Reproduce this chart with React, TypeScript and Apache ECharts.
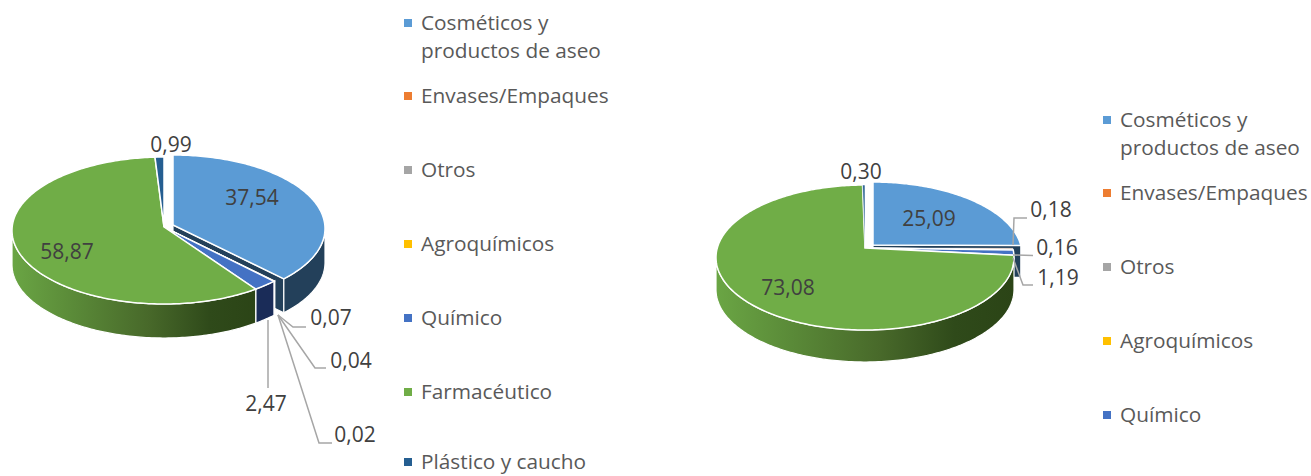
import React, { useEffect, useRef } from "react";
import * as echarts from "echarts";

const categories = [
  "Cosméticos y\nproductos de aseo",
  "Envases/Empaques",
  "Otros",
  "Agroquímicos",
  "Químico",
  "Farmacéutico",
  "Plástico y caucho",
];
const leftValues = [37.54, 0.07, 0.04, 0.02, 2.47, 58.87, 0.99];
const rightValues = [25.09, 0.18, 0.16, 0, 1.19, 73.08, 0.3];
const topColors = ["#5B9BD5", "#ED7D31", "#A5A5A5", "#FFC000", "#4472C4", "#70AD47", "#255E91"];
const wallColors = ["#23405A", "#7A3F18", "#555555", "#806000", "#1A2C58", "#2B4416", "#163A5A"];

const FONT = '"Open Sans", sans-serif';

type Layout = {
  ax: number; ay: number; rx: number; far: number; near: number; depth: number;
  blueOffset: [number, number]; gradX0: number; gradX1: number;
  labelPos: ([number, number] | null)[];
  leaders: ([number, number][] | null)[];
  legendX: number; legendYs: number[];
};

const leftLayout: Layout = {
  ax: 164, ay: 227, rx: 152, far: 70, near: 77, depth: 34,
  blueOffset: [9, -2], gradX0: 12, gradX1: 259,
  labelPos: [[252, 197], [331, 317], [351, 360], [355, 434], [266, 403], [67, 251], [171, 144]],
  leaders: [
    null,
    [[278, 315], [293, 327], [306, 327]],
    [[278, 315], [315, 368], [326, 368]],
    [[278, 315], [319, 443], [332, 443]],
    [[268, 320], [268, 388]],
    null,
    null,
  ],
  legendX: 404,
  legendYs: [22, 95, 169, 243, 317, 391, 461],
};

const rightLayout: Layout = {
  ax: 865, ay: 248, rx: 149, far: 63, near: 82, depth: 32,
  blueOffset: [8, -3], gradX0: 717, gradX1: 1014,
  labelPos: [[929, 218], [1051, 209], [1057, 247], null, [1058, 277], [788, 287], [861, 171]],
  leaders: [
    null,
    [[1013, 245], [1014, 218], [1027, 218]],
    [[1013, 255], [1033, 255.5]],
    null,
    [[1013, 258], [1023, 285], [1033, 285]],
    null,
    null,
  ],
  legendX: 1103,
  legendYs: [119, 192, 266, 340, 414],
};

function project(l: Layout, t: number, off: [number, number]): [number, number] {
  const P = (l.near - l.far) / (l.near + l.far);
  const ky = l.near * (1 - P);
  const kx = l.rx * Math.sqrt(1 - P * P);
  const u = Math.sin(t);
  const v = -Math.cos(t);
  const d = 1 - P * v;
  return [l.ax + off[0] + (kx * u) / d, l.ay + off[1] + (ky * v) / d];
}

function arc(l: Layout, t0: number, t1: number, off: [number, number]) {
  const pts: [number, number][] = [];
  const n = Math.max(2, Math.ceil(((t1 - t0) * 180) / Math.PI));
  for (let i = 0; i <= n; i++) pts.push(project(l, t0 + ((t1 - t0) * i) / n, off));
  return pts;
}

function sliceAngles(values: number[], i: number) {
  const total = values.reduce((a, b) => a + b, 0);
  const before = values.slice(0, i).reduce((a, b) => a + b, 0);
  return [(before / total) * 2 * Math.PI, ((before + values[i]) / total) * 2 * Math.PI];
}

function offsetOf(l: Layout, i: number): [number, number] {
  return i === 0 ? l.blueOffset : [0, 0];
}

function wallFill(l: Layout, i: number, ay: number) {
  if (i !== 5) return wallColors[i];
  return {
    type: "linear", x: l.gradX0, y: ay, x2: l.gradX1, y2: ay, global: true,
    colorStops: [
      { offset: 0, color: "#6AA544" },
      { offset: 0.25, color: "#5A8A38" },
      { offset: 0.55, color: "#48692A" },
      { offset: 0.8, color: "#2F4A1A" },
      { offset: 1, color: "#2B4416" },
    ],
  };
}

function wallSeries(name: string, values: number[], l: Layout) {
  return {
    type: "custom", name, coordinateSystem: "none", z: 2, silent: true,
    data: values.map((v) => [v]),
    renderItem: (params: any, api: any) => {
      const i = params.dataIndex;
      if (!(api.value(0) > 0)) return { type: "group", children: [] };
      const [t0, t1] = sliceAngles(values, i);
      const off = offsetOf(l, i);
      const P = (l.near - l.far) / (l.near + l.far);
      const lo = Math.acos(-P);
      const hi = 2 * Math.PI - lo;
      const children: any[] = [];
      if (off[0] !== 0) {
        const a: [number, number] = [l.ax + off[0], l.ay + off[1]];
        const e = project(l, t1, off);
        children.push({
          type: "polygon",
          shape: { points: [a, e, [e[0], e[1] + l.depth], [a[0], a[1] + l.depth]] },
          style: { fill: wallColors[i], stroke: "#fff", lineWidth: 1.2 },
        });
      }
      const s = Math.max(t0, lo);
      const f = Math.min(t1, hi);
      if (f > s) {
        const top = arc(l, s, f, off);
        const bottom = top.map((p) => [p[0], p[1] + l.depth]).reverse();
        children.push({
          type: "polygon",
          shape: { points: [...top, ...bottom] },
          style: { fill: wallFill(l, i, l.ay), stroke: "#fff", lineWidth: 1.2 },
        });
      }
      return { type: "group", children };
    },
  };
}

function topSeries(name: string, values: number[], l: Layout) {
  return {
    type: "custom", name, coordinateSystem: "none", z: 3, silent: true,
    data: values.map((v) => [v]),
    renderItem: (params: any, api: any) => {
      const i = params.dataIndex;
      if (!(api.value(0) > 0)) return { type: "group", children: [] };
      const [t0, t1] = sliceAngles(values, i);
      const off = offsetOf(l, i);
      const pts = [[l.ax + off[0], l.ay + off[1]], ...arc(l, t0, t1, off)];
      return {
        type: "polygon",
        shape: { points: pts },
        style: { fill: topColors[i], stroke: "#fff", lineWidth: values[i] < 0.5 ? 0.6 : 1.5 },
      };
    },
  };
}

const fmt = (v: number) => v.toFixed(2).replace(".", ",");

function overlay(values: number[], l: Layout) {
  const els: any[] = [];
  values.forEach((v, i) => {
    const line = l.leaders[i];
    if (line) {
      els.push({
        type: "polyline", z: 10, silent: true, shape: { points: line },
        style: { stroke: "#A6A6A6", lineWidth: 1.5, fill: "none" },
      });
    }
    const p = l.labelPos[i];
    if (p) {
      els.push({
        type: "text", z: 11, silent: true, x: p[0], y: p[1],
        style: { text: fmt(v), font: `21px ${FONT}`, fill: "#404040", align: "center", verticalAlign: "middle" },
      });
    }
  });
  l.legendYs.forEach((y, i) => {
    const multi = categories[i].includes("\n");
    els.push({
      type: "rect", z: 11, silent: true, shape: { x: l.legendX, y: y - 3, width: 8, height: 8 },
      style: { fill: topColors[i] },
    });
    els.push({
      type: "text", z: 11, silent: true, x: l.legendX + 17, y: multi ? y - 14 : y - 10,
      style: {
        text: categories[i], font: `20.8px ${FONT}`, lineHeight: multi ? 28 : 20, fill: "#595959",
        align: "left", verticalAlign: "top",
      },
    });
  });
  return els;
}

export default function App() {
  const ref = useRef<HTMLDivElement>(null);
  useEffect(() => {
    document.body.style.margin = "0";
    const chart = echarts.init(ref.current!, undefined, { renderer: "svg" });
    chart.setOption({
      animation: false,
      backgroundColor: "#fff",
      series: [
        wallSeries("izq-lateral", leftValues, leftLayout),
        topSeries("izq", leftValues, leftLayout),
        wallSeries("der-lateral", rightValues, rightLayout),
        topSeries("der", rightValues, rightLayout),
      ],
      graphic: { elements: [...overlay(leftValues, leftLayout), ...overlay(rightValues, rightLayout)] },
    });
    return () => chart.dispose();
  }, []);
  return <div ref={ref} style={{ width: 1311, height: 476 }} />;
}
